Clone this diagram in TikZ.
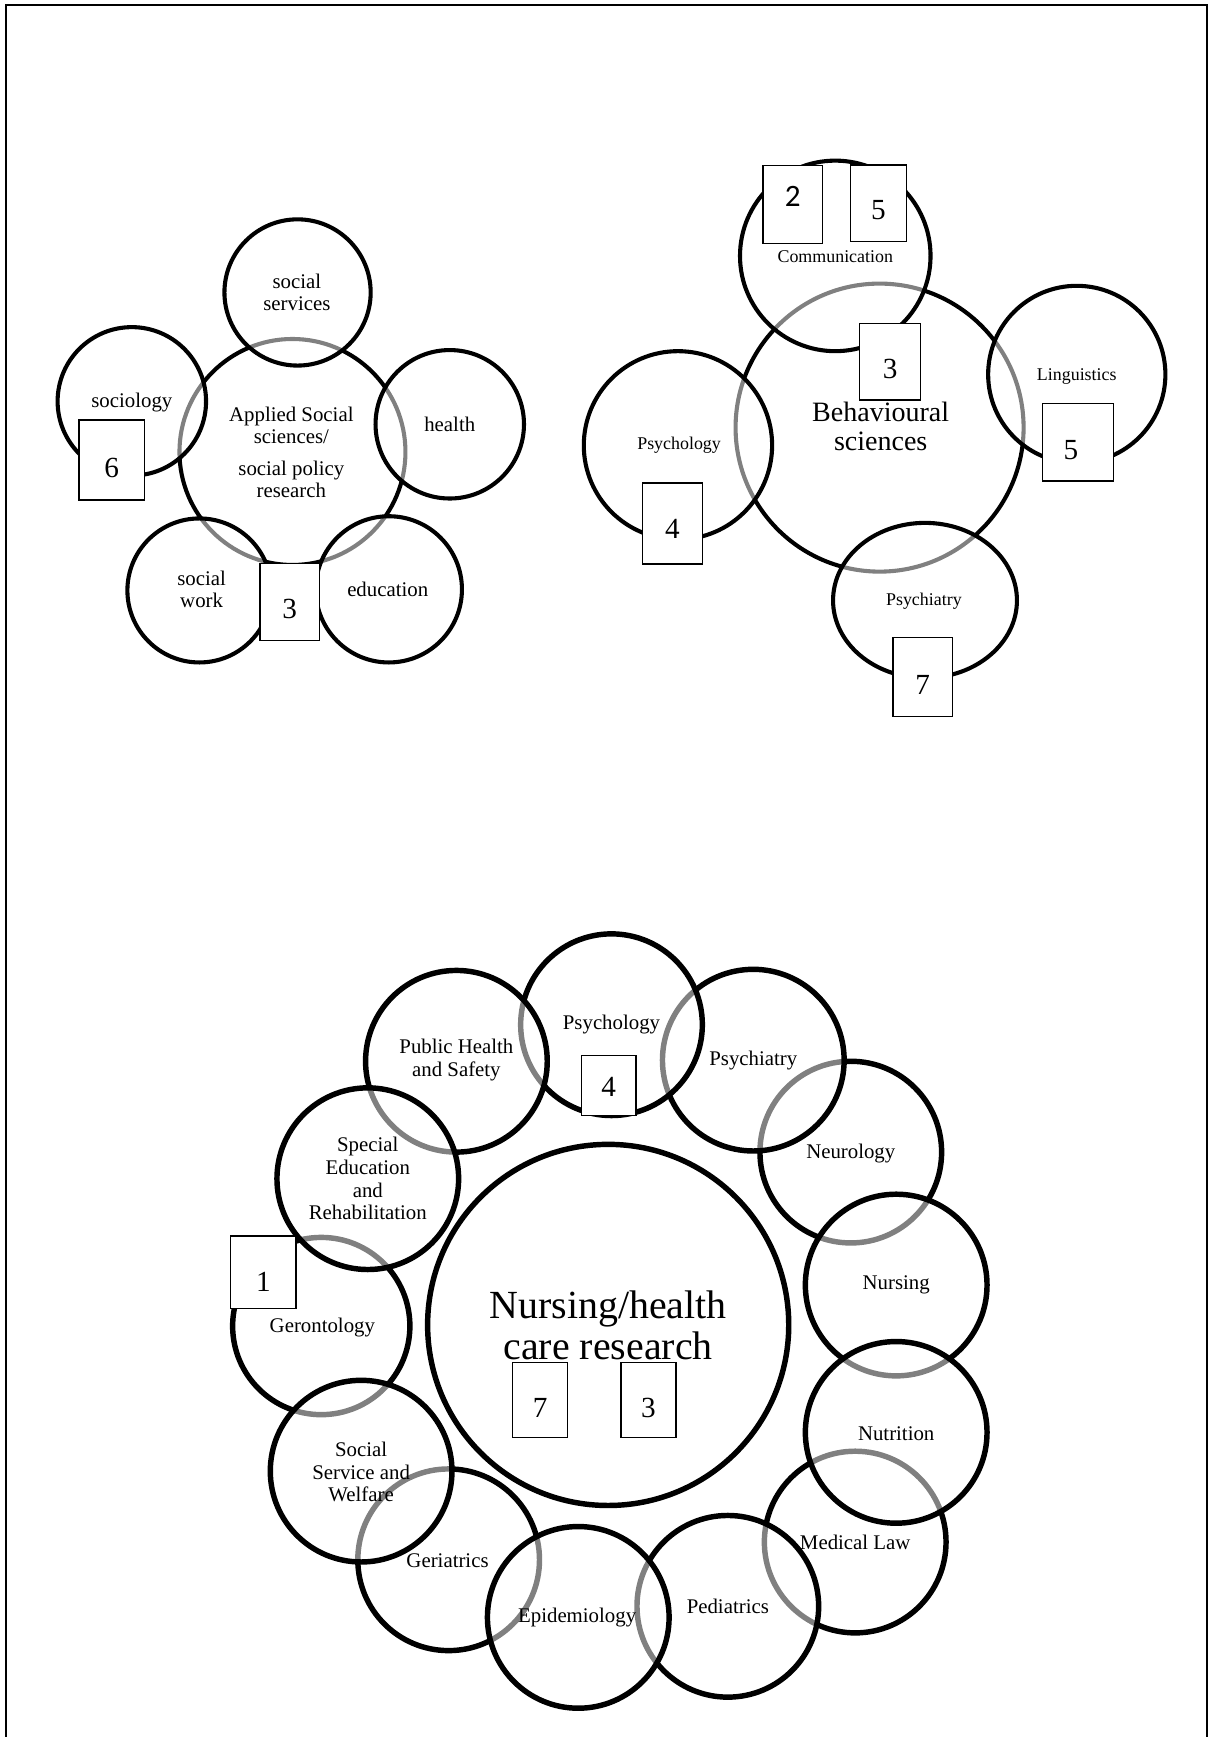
\documentclass[tikz,border=0pt]{standalone}
\usepackage{fontspec}
\setmainfont{Liberation Serif}
\newfontfamily\calibrifont{Carlito}
\begin{document}
\begin{tikzpicture}[x=0.02cm,y=-0.02cm,
	ring/.style={draw,line width=2.1pt,fill=white,fill opacity=.5},
	thickring/.style={ring,line width=2.8pt},
	lab/.style={align=center,inner sep=0pt,font=\fontsize{10.7}{11.6}\selectfont},
	smalllab/.style={lab,font=\fontsize{9.2}{10.5}\selectfont},
	numbox/.style={draw,fill=white,line width=.75pt,inner sep=0pt,text height=17.5pt,text depth=0pt,font=\fontsize{15}{17}\selectfont}]
	\useasboundingbox (0,0) rectangle (1096,1568);
	\draw[line width=1.3pt] (5.4,1580) -- (5.4,4.5) -- (1089.4,4.5) -- (1089.4,1580);
	
	\draw[ring] (264,408) circle [radius=102];
	\draw[ring] (268.6,264) circle [radius=66];
	\draw[ring] (119,362.3) circle [radius=67];
	\draw[ring] (406,383) circle [radius=67];
	\draw[ring] (180,533) circle [radius=65];
	\draw[ring] (351,532) circle [radius=66];
	\node[lab] (applied) at (263,408.5) {Applied Social\\sciences/\\[4.5pt]social policy\\research};
	\node[lab] (socserv) at (268,264) {social\\services};
	\node[lab] (sociology) at (119,363) {sociology};
	\node[lab] (health) at (406,383) {health};
	\node[lab] (socwork) at (182,532) {social\\work};
	\node[lab] (education) at (350,532) {education};
	\node[numbox,minimum width=1.18cm,minimum height=1.44cm] (boxsix) at (100.8,415.3) {6};
	\node[numbox,minimum width=1.07cm,minimum height=1.39cm] (boxthreea) at (261.5,543.2) {3};
	
	\draw[ring] (794,386) circle [radius=130];
	\draw[ring] (612,402) circle [radius=85];
	\draw[ring] (754,231) circle [radius=86];
	\draw[ring] (972,338) circle [radius=80];
	\draw[ring] (835,542) ellipse [x radius=83,y radius=70];
	\node[lab,font=\fontsize{14.4}{14.8}\selectfont] (behav) at (795,385) {Behavioural\\sciences};
	\node[smalllab] (comm) at (754,232) {Communication};
	\node[smalllab] (psychb) at (613,402) {Psychology};
	\node[smalllab] (ling) at (972,340) {Linguistics};
	\node[smalllab] (psychib) at (834,543) {Psychiatry};
	\node[numbox,minimum width=1.08cm,minimum height=1.41cm,text height=10.2pt,text depth=7.7pt,font=\calibrifont\fontsize{16}{18}\selectfont] (boxtwo) at (715.6,184.4) {2};
	\node[numbox,minimum width=1.02cm,minimum height=1.38cm,text height=16.9pt] (boxfivea) at (793,183.6) {5};
	\node[numbox,minimum width=1.1cm,minimum height=1.38cm] (boxthreeb) at (803.5,326.5) {3};
	\node[numbox,minimum width=1.28cm,minimum height=1.4cm] (boxfiveb) at (973,399) {\hspace*{-.25cm}5};
	\node[numbox,minimum width=1.08cm,minimum height=1.46cm,text height=15.2pt] (boxfoura) at (607,472.5) {4};
	\node[numbox,minimum width=1.08cm,minimum height=1.43cm] (boxsevena) at (833,611.2) {7};
	
	\draw[thickring] (549,1196) circle [radius=163];
	\draw[thickring] (768,1040) circle [radius=82];
	\draw[thickring] (809,1160) circle [radius=82];
	\draw[thickring] (772,1392) circle [radius=82];
	\draw[thickring] (809,1293) circle [radius=82];
	\draw[thickring] (657,1450) circle [radius=82];
	\draw[thickring] (680,957) circle [radius=82];
	\draw[thickring] (552,925) circle [radius=82];
	\draw[thickring] (412,958) circle [radius=82];
	\draw[thickring] (290,1197) circle [radius=80];
	\draw[thickring] (332,1064) circle [radius=82];
	\draw[thickring] (405,1408) circle [radius=82];
	\draw[thickring] (326,1328) circle [radius=82];
	\draw[thickring] (522,1460) circle [radius=82];
	\node[lab,font=\fontsize{20.5}{21}\selectfont] (nursingres) at (549,1196) {Nursing/health\\care research};
	\node[lab] (neuro) at (768,1041) {Neurology};
	\node[lab] (nursing) at (809,1160) {Nursing};
	\node[lab] (nutrition) at (809,1294) {Nutrition};
	\node[lab] (medlaw) at (772,1392) {Medical Law};
	\node[lab] (pediatrics) at (657,1450) {Pediatrics};
	\node[lab] (epidem) at (521,1460) {Epidemiology};
	\node[lab] (geriatrics) at (404,1409) {Geriatrics};
	\node[lab] (welfare) at (326,1329) {Social\\Service and\\Welfare};
	\node[lab] (geronto) at (291,1198) {Gerontology};
	\node[lab] (specialed) at (332,1064) {Special\\Education\\and\\Rehabilitation};
	\node[lab] (pubhealth) at (412,957) {Public Health\\and Safety};
	\node[lab] (psychc) at (552,925) {Psychology};
	\node[lab] (psychic) at (680,957) {Psychiatry};
	\node[numbox,minimum width=.98cm,minimum height=1.08cm,text height=11.5pt] (boxfourb) at (549.5,980) {4};
	\node[numbox,minimum width=1.18cm,minimum height=1.31cm,text height=20.3pt] (boxone) at (237.7,1148.3) {1};
	\node[numbox,minimum width=.99cm,minimum height=1.35cm] (boxsevenb) at (487.5,1263.9) {7};
	\node[numbox,minimum width=.99cm,minimum height=1.35cm] (boxthreec) at (585.3,1263.9) {3};
\end{tikzpicture}
\end{document}
